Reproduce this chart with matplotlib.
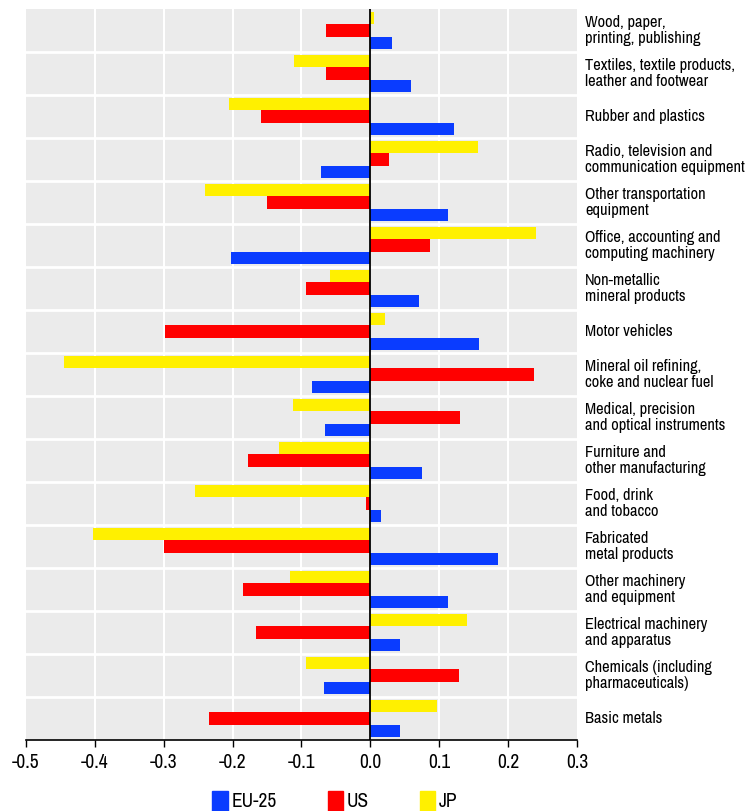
import numpy as np
import matplotlib
matplotlib.use("Agg")
import matplotlib.pyplot as plt
from matplotlib import font_manager
from matplotlib.patches import Patch

# categories listed top to bottom
sectors = [
    "Wood, paper,\nprinting, publishing",
    "Textiles, textile products,\nleather and footwear",
    "Rubber and plastics",
    "Radio, television and\ncommunication equipment",
    "Other transportation\nequipment",
    "Office, accounting and\ncomputing machinery",
    "Non-metallic\nmineral products",
    "Motor vehicles",
    "Mineral oil refining,\ncoke and nuclear fuel",
    "Medical, precision\nand optical instruments",
    "Furniture and\nother manufacturing",
    "Food, drink\nand tobacco",
    "Fabricated\nmetal products",
    "Other machinery\nand equipment",
    "Electrical machinery\nand apparatus",
    "Chemicals (including\npharmaceuticals)",
    "Basic metals",
]
eu25 = [0.031, 0.059, 0.122, -0.071, 0.113, -0.203, 0.071, 0.157, -0.085,
        -0.066, 0.075, 0.015, 0.186, 0.113, 0.043, -0.068, 0.043]
us = [-0.064, -0.065, -0.159, 0.027, -0.150, 0.087, -0.094, -0.298, 0.237,
      0.130, -0.178, -0.006, -0.299, -0.185, -0.166, 0.129, -0.235]
jp = [0.005, -0.111, -0.205, 0.156, -0.240, 0.241, -0.058, 0.021, -0.445,
      -0.112, -0.133, -0.255, -0.402, -0.116, 0.140, -0.094, 0.097]
xticks = [-0.5, -0.4, -0.3, -0.2, -0.1, 0.0, 0.1, 0.2, 0.3]

C_EU, C_US, C_JP = "#0A3CFF", "#FF0000", "#FFF000"


def _weight(w):
    if isinstance(w, str):
        return {"light": 300, "normal": 400, "regular": 400, "book": 400,
                "medium": 500, "bold": 700}.get(w, 400)
    return int(w)


# look for a narrow, non-bold face (condensed labels as in the original)
cands = []
for f in font_manager.fontManager.ttflist:
    narrowish = ("Condensed" in f.name or "Narrow" in f.name
                 or f.stretch in ("condensed", "semi-condensed"))
    if narrowish and f.style == "normal" and 300 <= _weight(f.weight) <= 450:
        cands.append((abs(_weight(f.weight) - 400), f.name, _weight(f.weight), f.stretch))
cands.sort()
if cands:
    FONT = [cands[0][1], "DejaVu Sans"]
    WEIGHT = cands[0][2]
    STRETCH = cands[0][3]
    cond = True
else:
    FONT = ["DejaVu Sans"]
    WEIGHT = 400
    STRETCH = "normal"
    cond = False
fkw = dict(family=FONT, weight=WEIGHT, stretch=STRETCH)

fig = plt.figure(figsize=(7.54, 8.11), dpi=100)
ax = fig.add_axes([26 / 754, 71 / 811, 551 / 754, 731 / 811])
ax.set_facecolor("#EBEBEB")

n = len(sectors)
y = np.arange(n)[::-1].astype(float)  # first sector at top
h = 0.29
ax.barh(y + h, jp, height=h, color=C_JP, zorder=3)
ax.barh(y, us, height=h, color=C_US, zorder=3)
ax.barh(y - h, eu25, height=h, color=C_EU, zorder=3)

ax.set_xlim(-0.5, 0.3)
ax.set_ylim(-0.5, n - 0.5)

# white grid: vertical at ticks, horizontal between sectors
for xv in xticks[1:-1]:
    ax.axvline(xv, color="white", lw=1.5, zorder=1)
for yb in np.arange(0.5, n - 0.5, 1.0):
    ax.axhline(yb, color="white", lw=2, zorder=1)
ax.axvline(0, color="black", lw=1.3, zorder=4)

ax.set_xticks(xticks)
ax.set_xticklabels([f"{v:.1f}" for v in xticks], fontsize=14 if cond else 11.5, **fkw)
ax.set_yticks([])
ax.tick_params(axis="x", direction="out", length=5, width=1, pad=4)
for s in ("top", "right", "left"):
    ax.spines[s].set_visible(False)
ax.spines["bottom"].set_linewidth(1.2)

lab_size = 11.8 if cond else 9.6
for yi, lab in zip(y, sectors):
    ax.text(1.0 + 8 / 551, (yi + 0.5) / n, lab, transform=ax.transAxes,
            ha="left", va="center", fontsize=lab_size, linespacing=1.05, **fkw)

handles = [Patch(color=C_EU, label="EU-25"), Patch(color=C_US, label="US"),
           Patch(color=C_JP, label="JP")]
fig.legend(handles=handles, loc="center", bbox_to_anchor=(335 / 754, 1 - 801 / 811),
           ncol=3, frameon=False, handlelength=0.8, handleheight=1.2,
           handletextpad=0.2, columnspacing=2.6,
           prop=dict(size=14 if cond else 11.5, **fkw))

fig.savefig("out.png", dpi=100)
